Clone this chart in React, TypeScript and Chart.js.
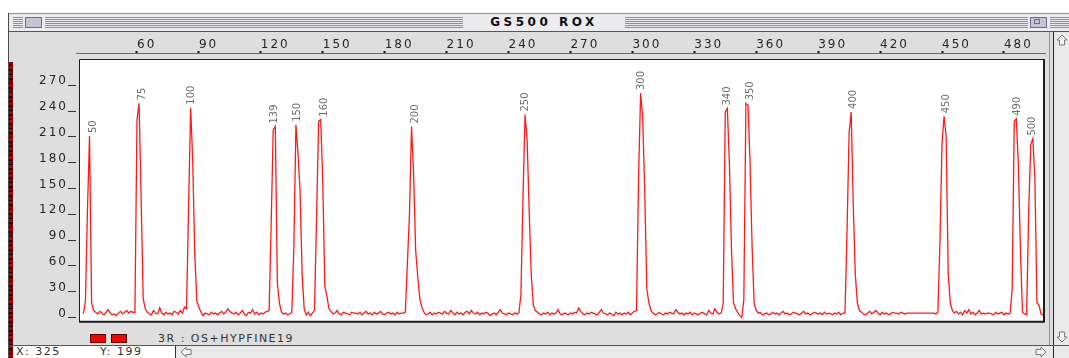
import React, { useEffect, useRef } from 'react';
import { Chart, registerables } from 'chart.js';

Chart.register(...registerables);

// ---- data ----
const windowTitle = 'GS500 ROX';
const traceName = '3R : OS+HYPFINE19';
const cursorX = 325;
const cursorY = 199;

const firstScan = 34;
const signal: number[] = [
  4, 18, 125, 211, 17, 8,
  6, 4, 7, 5, 3, 6, 9, 5, 3, 4, 2, 5, 7, 4, 6, 8, 5, 7, 6,
  6, 230, 249, 140, 22, 10,
  6, 4, 3, 8, 5, 4, 11, 5, 3, 6, 4, 5, 3, 7, 6, 4, 8, 5, 12,
  10, 130, 244, 182, 73, 19, 12,
  6, 2, 5, 4, 3, 6, 4, 5, 3, 5, 7, 4, 6, 10, 7, 5, 4, 6, 3, 5, 8, 4, 2, 6, 5, 9, 4, 6, 3, 5, 4, 6, 7,
  8, 108, 218, 222, 40, 17, 6,
  4, 5, 3, 4,
  6, 82, 224, 190, 148, 50, 10,
  3, 6, 2, 5,
  8, 117, 228, 230, 158, 36, 25, 10,
  7, 4, 5, 8, 4, 3, 6, 5, 4, 3, 6, 5, 5, 4, 6, 3, 5, 7, 4, 5, 3, 6, 4, 5, 7, 4, 3, 5, 6, 4, 5, 3, 6, 4, 5, 5,
  6, 63, 120, 222, 168, 78, 48, 22, 12, 6,
  3, 4, 6, 3, 5, 4, 6, 5, 4, 7, 5, 4, 8, 5, 3, 6, 4, 5, 3, 6, 7, 4, 8, 5, 4, 6, 3, 5, 4, 6, 5, 2, 4, 5, 3, 6, 9, 5, 4, 3, 5, 4, 3, 5, 4,
  5, 26, 139, 236, 207, 124, 50, 14, 8,
  6, 4, 3, 5, 4, 6, 3, 5, 4, 5, 9, 4, 3, 5, 4, 3, 5, 4, 6, 5, 11, 7, 4, 3, 5, 4, 6, 5, 4, 3, 6, 9, 5, 4, 3, 5, 4, 2, 6, 4, 5, 3, 5, 4, 6, 3, 5, 7,
  8, 164, 261, 232, 145, 33, 17, 8,
  5, 3, 4, 6, 4, 3, 5, 4, 6, 5, 4, 9, 6, 4, 5, 3, 5, 4, 6, 3, 5, 4, 3, 5, 6, 4, 3, 8, 5, 4, 10, 6, 4,
  5, 16, 239, 243, 179, 80, 17, 10, 6, 2, 0, 21, 249, 247, 181, 82, 16, 8,
  5, 6, 3, 4, 5, 3, 4, 6, 4, 5, 3, 5, 7, 4, 5, 3, 4, 6, 5, 4, 3, 5, 7, 4, 5, 3, 4, 6, 5, 4, 5, 3, 6, 4, 5, 4, 3, 5, 4, 6, 3, 5,
  5, 101, 215, 239, 131, 50, 17, 8,
  6, 4, 3, 5, 7, 4, 6, 8, 5, 3, 6, 4, 5, 3, 4, 6, 5, 5, 4, 6, 5, 4, 5, 5, 5, 5, 5, 5, 5, 5, 5, 5, 5, 5, 5, 5, 4,
  6, 88, 202, 234, 211, 51, 17, 8,
  5, 7, 4, 6, 3, 8, 5, 9, 4, 6, 3, 5, 8, 4, 5, 4, 5, 5, 4, 3, 6, 4, 5, 6, 3, 5, 4,
  5, 33, 228, 231, 177, 78, 6, 4, 3, 124, 201, 208, 162, 17, 14, 4, 3, 3,
];

const peakSizes = ['50', '75', '100', '139', '150', '160', '200', '250', '300', '340', '350', '400', '450', '490', '500'];
const peakLabelScans = [39, 62.5, 86.5, 126.5, 137.5, 151, 195, 248, 304.5, 346, 357, 407, 452, 486.5, 494];

const topTicks = [60, 90, 120, 150, 180, 210, 240, 270, 300, 330, 360, 390, 420, 450, 480];
const leftTicks = [0, 30, 60, 90, 120, 150, 180, 210, 240, 270];

const xMin = 30.45;
const xMax = 499.9;
const yMin = -6.3;
const yMax = 307.6;

const AXIS_FONT = { family: 'DejaVu Sans', size: 12 };

const spacingPlugin = {
  id: 'spacing',
  beforeDraw(chart: any) {
    chart.ctx.letterSpacing = '2px';
  },
};

const framePlugin = {
  id: 'frame',
  beforeDatasetsDraw(chart: any) {
    const { ctx, chartArea } = chart;
    const L = chartArea.left + 3;
    const T = chartArea.top + 6;
    const R = chartArea.right - 1;
    const B = chartArea.bottom - 1;
    ctx.save();
    ctx.fillStyle = '#ffffff';
    ctx.fillRect(L, T, R - L, B - T);
    ctx.restore();
  },
  afterDatasetsDraw(chart: any) {
    const { ctx, chartArea } = chart;
    const L = chartArea.left + 3;
    const T = chartArea.top + 6;
    const R = chartArea.right - 1;
    const B = chartArea.bottom - 1;
    ctx.save();
    ctx.strokeStyle = '#1c1c1c';
    ctx.lineWidth = 1;
    ctx.beginPath();
    ctx.moveTo(L + 0.5, B);
    ctx.lineTo(L + 0.5, T + 0.5);
    ctx.lineTo(R, T + 0.5);
    ctx.stroke();
    ctx.lineWidth = 2;
    ctx.beginPath();
    ctx.moveTo(R, T);
    ctx.lineTo(R, B);
    ctx.lineTo(L, B);
    ctx.stroke();
    ctx.restore();
  },
};

const peakLabelPlugin = {
  id: 'peakLabels',
  afterDatasetsDraw(chart: any) {
    const { ctx } = chart;
    const xs = chart.scales.x;
    const ys = chart.scales.y;
    ctx.save();
    ctx.letterSpacing = '0px';
    ctx.fillStyle = '#6e6e6e';
    ctx.font = '10px "DejaVu Sans"';
    ctx.textAlign = 'left';
    ctx.textBaseline = 'middle';
    peakSizes.forEach((label, i) => {
      const s = peakLabelScans[i];
      let h = 0;
      signal.forEach((v, j) => {
        const sc = firstScan + j;
        if (Math.abs(sc - s) <= 3 && v > h) h = v;
      });
      const x = xs.getPixelForValue(s);
      const y = ys.getPixelForValue(h) - 3;
      ctx.save();
      ctx.translate(x, y);
      ctx.rotate(-Math.PI / 2);
      ctx.fillText(label, 0, 0);
      ctx.restore();
    });
    ctx.restore();
  },
};

function Arrow({ dir }: { dir: 'up' | 'down' | 'left' | 'right' }) {
  const rot = { up: 0, right: 90, down: 180, left: 270 }[dir];
  return (
    <svg width="14" height="12" viewBox="0 0 14 12" style={{ display: 'block' }}>
      <polygon
        points="7,1 12,6 9.5,6 9.5,11 4.5,11 4.5,6 2,6"
        fill="#f4f4f4"
        stroke="#777"
        strokeWidth="1"
        transform={`rotate(${rot} 7 6)`}
      />
    </svg>
  );
}

const abs = (l: number, t: number, w: number, h: number, extra: React.CSSProperties = {}): React.CSSProperties => ({
  position: 'absolute',
  left: l,
  top: t,
  width: w,
  height: h,
  ...extra,
});

const stripes = 'repeating-linear-gradient(to bottom, #8f8f95 0px, #8f8f95 1px, #ececf0 1px, #ececf0 2px)';

export default function App() {
  const canvasRef = useRef<HTMLCanvasElement | null>(null);

  useEffect(() => {
    if (!canvasRef.current) return;
    const points = signal.map((v, i) => ({ x: firstScan + i, y: v }));
    const chart = new Chart(canvasRef.current, {
      type: 'line',
      data: {
        datasets: [
          {
            data: points,
            borderColor: '#ff1a1a',
            borderWidth: 1.3,
            pointRadius: 0,
            tension: 0,
            fill: false,
          },
        ],
      },
      options: {
        animation: false,
        responsive: false,
        events: [],
        layout: { padding: { left: 0, top: 0, right: 4, bottom: 2 } },
        plugins: { legend: { display: false }, tooltip: { enabled: false } },
        scales: {
          x: {
            type: 'linear',
            position: 'top',
            min: xMin,
            max: xMax,
            afterBuildTicks: (ax: any) => {
              ax.ticks = topTicks.map((v) => ({ value: v }));
            },
            afterFit: (ax: any) => {
              ax.height = 21;
            },
            ticks: {
              autoSkip: false,
              maxRotation: 0,
              minRotation: 0,
              align: 'start',
              padding: -1,
              color: '#262626',
              font: AXIS_FONT,
              callback: (v: any) => String(v),
            },
            grid: { drawOnChartArea: false, tickLength: 2, tickWidth: 2, tickColor: '#111' },
            border: { display: true, color: '#6a6a6a', width: 1 },
          },
          y: {
            type: 'linear',
            position: 'left',
            min: yMin,
            max: yMax,
            afterBuildTicks: (ax: any) => {
              ax.ticks = leftTicks.map((v) => ({ value: v }));
            },
            afterFit: (ax: any) => {
              ax.width = 66;
            },
            ticks: {
              padding: 0,
              labelOffset: -4,
              color: '#262626',
              font: AXIS_FONT,
              callback: (v: any) => String(v),
            },
            grid: { drawOnChartArea: false, tickLength: 8, tickWidth: 1, tickColor: '#333' },
            border: { display: false },
          },
        },
      } as any,
      plugins: [spacingPlugin, framePlugin, peakLabelPlugin],
    });
    return () => chart.destroy();
  }, []);

  const smallText: React.CSSProperties = {
    fontFamily: '"DejaVu Sans", sans-serif',
    fontSize: 11,
    letterSpacing: '1.5px',
    color: '#333',
    whiteSpace: 'nowrap',
  };

  return (
    <div style={{ position: 'fixed', left: 0, top: 0, width: 1069, height: 358, background: '#fff', overflow: 'hidden' }}>
      {/* title bar */}
      <div style={abs(8, 13, 1061, 19, { background: '#ececf0', borderTop: '1px solid #8a8aa6', borderBottom: '1px solid #555', boxSizing: 'border-box' })} />
      <div style={abs(13, 17, 10, 11, { background: stripes })} />
      <div style={abs(45, 17, 418, 11, { background: stripes })} />
      <div style={abs(625, 17, 403, 11, { background: stripes })} />
      <div style={abs(1050, 17, 19, 11, { background: stripes })} />
      <div style={abs(25, 17, 17, 11, { background: '#c4c4d6', border: '1px solid #6b6b9c', boxSizing: 'border-box' })} />
      <div style={abs(1030, 17, 17, 11, { background: '#c4c4d6', border: '1px solid #6b6b9c', boxSizing: 'border-box' })} />
      <div style={abs(1034, 19, 6, 5, { border: '1px solid #6b6b9c', boxSizing: 'border-box' })} />
      <div
        style={abs(463, 14, 162, 17, {
          fontFamily: '"DejaVu Sans", sans-serif',
          fontWeight: 'bold',
          fontSize: 12,
          letterSpacing: '3.5px',
          lineHeight: '17px',
          textAlign: 'center',
          color: '#111',
        })}
      >
        {windowTitle}
      </div>

      {/* content area */}
      <div style={abs(9, 32, 1044, 313, { background: '#dedede' })} />
      <div style={abs(8, 13, 1, 345, { background: '#4a4a4a' })} />
      <div
        style={abs(9, 62, 4, 296, {
          background:
            'repeating-linear-gradient(to bottom, #8a0000 0px, #8a0000 3px, #000 3px, #000 4px, #b00000 4px, #b00000 7px, #1a0000 7px, #1a0000 9px)',
        })}
      />
      <div style={abs(10, 32, 1039, 298)}>
        <canvas ref={canvasRef} width={1039} height={298} style={{ display: 'block' }} />
      </div>
      <div style={abs(1049, 32, 1, 313, { background: '#8c8c8c' })} />

      {/* vertical scrollbar */}
      <div style={abs(1053, 32, 16, 313, { background: '#e9e9e9', borderLeft: '1px solid #222', boxSizing: 'border-box' })} />
      <div style={abs(1055, 34, 14, 13)}>
        <Arrow dir="up" />
      </div>
      <div style={abs(1055, 331, 14, 13)}>
        <Arrow dir="down" />
      </div>

      {/* trace legend */}
      <div style={abs(90, 334, 16, 9, { background: '#ff0000', border: '1px solid #5a0000', boxSizing: 'border-box' })} />
      <div style={abs(111, 334, 16, 9, { background: '#ff0000', border: '1px solid #5a0000', boxSizing: 'border-box' })} />
      <div style={abs(158, 331, 300, 15, { ...smallText, lineHeight: '15px' })}>{traceName}</div>

      {/* status bar */}
      <div style={abs(8, 345, 1061, 1, { background: '#555' })} />
      <div style={abs(13, 346, 162, 12, { background: '#fff' })} />
      <div style={abs(16, 346, 60, 12, { ...smallText, lineHeight: '12px' })}>{`X: ${cursorX}`}</div>
      <div style={abs(100, 346, 60, 12, { ...smallText, lineHeight: '12px' })}>{`Y: ${cursorY}`}</div>
      <div style={abs(175, 346, 1, 12, { background: '#333' })} />
      <div style={abs(176, 346, 877, 12, { background: '#e9e9e9' })} />
      <div style={abs(179, 346, 14, 12)}>
        <Arrow dir="left" />
      </div>
      <div style={abs(1034, 346, 14, 12)}>
        <Arrow dir="right" />
      </div>
      <div style={abs(1053, 346, 16, 12, { background: '#e9e9e9', borderLeft: '1px solid #222', boxSizing: 'border-box' })} />
    </div>
  );
}
